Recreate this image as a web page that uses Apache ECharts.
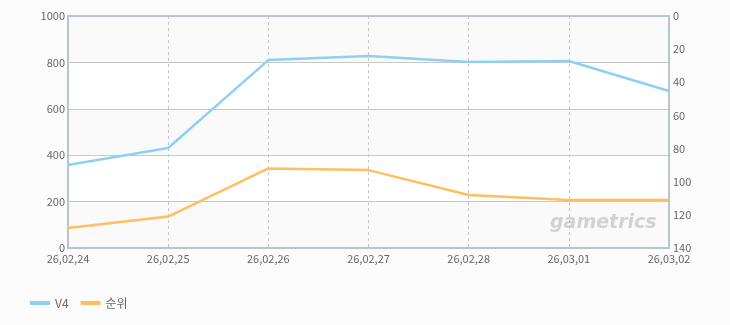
<!DOCTYPE html>
<html><head><meta charset="utf-8">
<script src="https://cdn.jsdelivr.net/npm/echarts@6/dist/echarts.min.js"></script>
<style>html,body{margin:0;padding:0;background:#fcfcfc}#c{width:730px;height:325px}</style>
</head><body><div id="c"></div>
<script>
const categories = ['26,02,24','26,02,25','26,02,26','26,02,27','26,02,28','26,03,01','26,03,02'];
const v4Values = [358, 431, 810, 828, 802, 806, 677];
const rankValues = [128, 121, 92, 93, 108, 111, 111];
const seriesNames = ['V4', '순위'];

const chart = echarts.init(document.getElementById('c'));
const font = '"Noto Sans CJK KR", "DejaVu Sans", sans-serif';
const frame = {show: true, lineStyle: {color: '#b4c5d8', width: 2}};
chart.setOption({
  backgroundColor: '#fcfcfc',
  animation: false,
  grid: {left: 68, right: 61, top: 16, bottom: 77},
  legend: {
    left: 25, top: 292, itemWidth: 20, itemHeight: 4, itemGap: 12, icon: 'rect',
    textStyle: {color: '#666', fontSize: 12, fontFamily: font},
    data: seriesNames
  },
  graphic: [{
    type: 'text', left: 550, top: 214, silent: true, z: 100,
    style: {text: 'gametrics', fill: 'rgba(170,170,170,0.5)', font: 'italic bold 19px "DejaVu Sans", sans-serif'}
  }],
  xAxis: [{
    type: 'category', data: categories, boundaryGap: false, position: 'bottom',
    axisLine: frame, axisTick: {show: false},
    axisLabel: {color: '#666', fontSize: 11, fontFamily: font, margin: 5, interval: 0},
    splitLine: {show: true, lineStyle: {color: '#c8c8c8', type: [3, 3], width: 1}}
  }, {
    type: 'category', data: categories, boundaryGap: false, position: 'top',
    axisLine: frame, axisTick: {show: false}, axisLabel: {show: false}, splitLine: {show: false}
  }],
  yAxis: [{
    type: 'value', min: 0, max: 1000, interval: 200, position: 'left',
    axisLine: frame, axisTick: {show: false},
    axisLabel: {color: '#666', fontSize: 11, fontFamily: font, margin: 3, formatter: v => String(v)},
    splitLine: {lineStyle: {color: '#c8c8c8', width: 1}},
    splitArea: {show: true, areaStyle: {color: ['#fafafa', '#ffffff']}}
  }, {
    type: 'value', min: 0, max: 140, interval: 20, inverse: true, position: 'right',
    axisLine: frame, axisTick: {show: false},
    axisLabel: {color: '#666', fontSize: 11, fontFamily: font, margin: 4},
    splitLine: {show: false}
  }],
  series: [{
    name: seriesNames[0], type: 'line', yAxisIndex: 0, data: v4Values,
    showSymbol: false, symbol: 'none', color: '#8fd0f2',
    lineStyle: {width: 2.5, color: '#8fd0f2'}
  }, {
    name: seriesNames[1], type: 'line', yAxisIndex: 1, data: rankValues,
    showSymbol: false, symbol: 'none', color: '#ffbf5e',
    lineStyle: {width: 2.5, color: '#ffbf5e'}
  }]
});
</script></body></html>
